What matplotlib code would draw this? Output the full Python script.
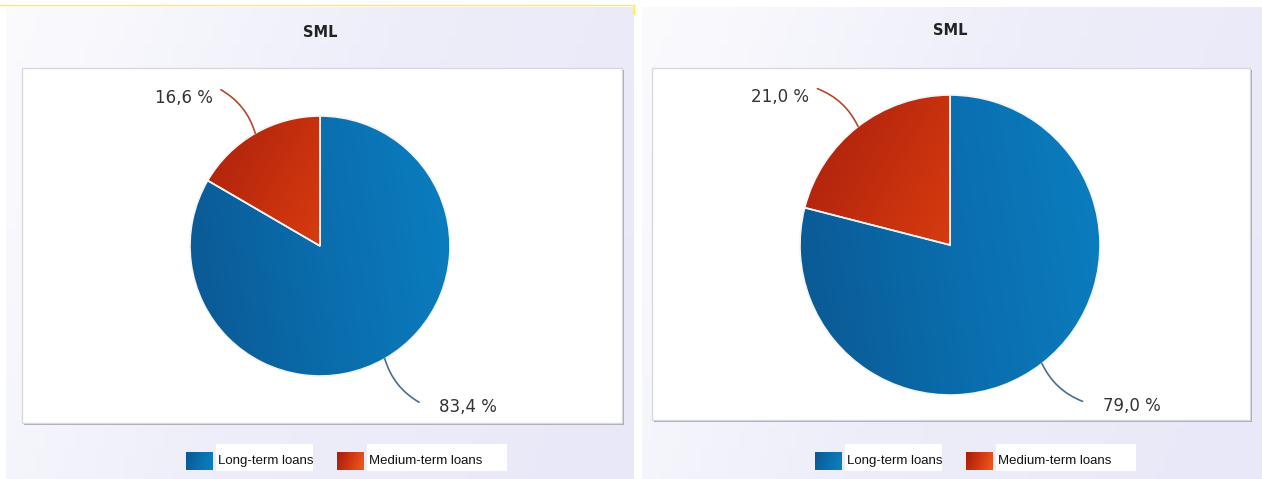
import numpy as np
import matplotlib
matplotlib.use("Agg")
import matplotlib.pyplot as plt
from matplotlib.patches import Rectangle
from matplotlib.colors import LinearSegmentedColormap

# data
titles = ["SML", "SML"]
categories = ["Long-term loans", "Medium-term loans"]
shares_left = [83.4, 16.6]
shares_right = [79.0, 21.0]
label_texts_left = ["83,4 %", "16,6 %"]
label_texts_right = ["79,0 %", "21,0 %"]

W, H = 1262, 479
fig = plt.figure(figsize=(W / 100, H / 100), dpi=100)
fig.patch.set_facecolor("white")

# background axes in pixel coordinates (y from top)
bg = fig.add_axes([0, 0, 1, 1])
bg.set_xlim(0, W)
bg.set_ylim(H, 0)
bg.axis("off")

blue_cmap = LinearSegmentedColormap.from_list("b", ["#0a5893", "#0a6eae", "#0b80c2"])
red_cmap = LinearSegmentedColormap.from_list("r", ["#a81e0c", "#d2380f", "#ee5a1e"])
panel_cmap = LinearSegmentedColormap.from_list("p", ["#fbfbfe", "#eeeefa", "#e8e8f8"])


def grad_img(n=64, angle=0.0):
    gx, gy = np.meshgrid(np.linspace(0, 1, n), np.linspace(0, 1, n))
    return np.cos(angle) * gx + np.sin(angle) * gy


panels = [
    dict(x0=6, x1=634, box=(22, 68, 622, 423), c=(320, 246), r=130,
         shares=shares_left, labels=label_texts_left, title_y=32,
         leg=(186, 337)),
    dict(x0=642, x1=1262, box=(652, 68, 1250, 420), c=(950, 245), r=150,
         shares=shares_right, labels=label_texts_right, title_y=30,
         leg=(815, 966)),
]

# thin yellow frame line on the left screenshot
bg.plot([0, 634], [5, 5], color="#ffee44", lw=1)
bg.plot([634, 634], [5, 14], color="#ffee44", lw=1)

for k, p in enumerate(panels):
    # panel background
    bg.imshow(grad_img(64, 0.3), cmap=panel_cmap, extent=(p["x0"], p["x1"], H, 7),
              aspect="auto", zorder=0, vmin=0, vmax=1.2)
    bx0, by0, bx1, by1 = p["box"]
    # shadow + box
    bg.add_patch(Rectangle((bx0 + 2, by0 + 2), bx1 - bx0, by1 - by0,
                           facecolor="#a8a8b4", edgecolor="none", zorder=1))
    bg.add_patch(Rectangle((bx0, by0), bx1 - bx0, by1 - by0,
                           facecolor="white", edgecolor="#d8d8e0", lw=1, zorder=2))
    bg.text(p["c"][0], p["title_y"], titles[k], ha="center", va="center",
            fontsize=10.5, fontweight="bold", color="#222222", zorder=3)

    # legend
    for i, lx in enumerate(p["leg"]):
        cm = blue_cmap if i == 0 else red_cmap
        bg.imshow(grad_img(16, 0.2), cmap=cm, extent=(lx, lx + 27, 470, 452),
                  aspect="auto", zorder=3)
        tw = 97 if i == 0 else 140
        bg.add_patch(Rectangle((lx + 30, 444), tw, 27, facecolor="white",
                               edgecolor="none", zorder=3))
        bg.text(lx + 32, 461, categories[i], ha="left", va="center", fontsize=9.5,
                family="Liberation Sans", color="#111111", zorder=4)

    # pie axes: same scale both ways, 1 unit = r pixels
    cx, cy = p["c"]
    r = p["r"]
    ax = fig.add_axes([bx0 / W, (H - by1) / H, (bx1 - bx0) / W, (by1 - by0) / H])
    wedges, _ = ax.pie(p["shares"], startangle=90, counterclock=False,
                       colors=["none", "none"],
                       wedgeprops=dict(edgecolor="#f4f4f4", linewidth=1.2))
    ax.set_aspect("auto")
    ax.set_xlim((bx0 - cx) / r, (bx1 - cx) / r)
    ax.set_ylim((cy - by1) / r, (cy - by0) / r)
    ax.patch.set_alpha(0)
    for w, cm, ang in zip(wedges, [blue_cmap, red_cmap], [0.15, 0.5]):
        im = ax.imshow(grad_img(128, ang), cmap=cm, extent=(-1, 1, -1, 1),
                       origin="lower" if cm is blue_cmap else "upper",
                       zorder=0.5, vmin=0, vmax=1.2)
        im.set_clip_path(w)
        w.set_zorder(1)

    # labels with curved leader lines
    line_cols = ["#4a6f8e", "#b04a30"]
    for w, txt, lc in zip(wedges, p["labels"], line_cols):
        mid = np.deg2rad((w.theta1 + w.theta2) / 2)
        ex, ey = np.cos(mid), np.sin(mid)
        rr = 1 + 55 / r
        a2 = mid + np.deg2rad(2.5)
        tx, ty = rr * np.cos(a2), rr * np.sin(a2)
        ax.annotate("", xy=(ex, ey), xytext=(tx, ty),
                    arrowprops=dict(arrowstyle="-", color=lc, lw=1.2,
                                    connectionstyle="arc3,rad=-0.2",
                                    shrinkA=0, shrinkB=0))
        if ex > 0:
            ax.annotate(txt, xy=(tx, ty), xytext=(20, -5), textcoords="offset pixels",
                        ha="left", va="center", fontsize=12, color="#333333")
        else:
            ax.annotate(txt, xy=(tx, ty), xytext=(-8, -8), textcoords="offset pixels",
                        ha="right", va="center", fontsize=12, color="#333333")

fig.savefig("out.png", dpi=100)
